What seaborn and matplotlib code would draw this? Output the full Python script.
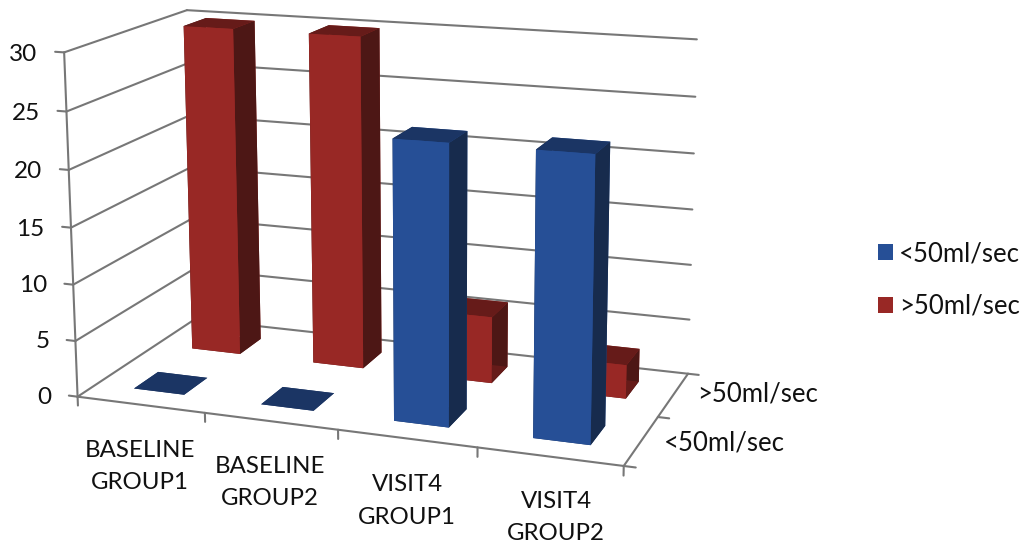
import numpy as np
import pandas as pd
import matplotlib
matplotlib.use("Agg")
import matplotlib.pyplot as plt
from matplotlib.patches import Patch
from matplotlib.ticker import NullLocator
import seaborn as sns

# Chart values
groups = ["BASELINE\nGROUP1", "BASELINE\nGROUP2", "VISIT4\nGROUP1", "VISIT4\nGROUP2"]
series_names = ["<50ml/sec", ">50ml/sec"]
below_50 = [0, 0, 24, 24]
above_50 = [30, 30, 6, 3]
value_ticks = [0, 5, 10, 15, 20, 25, 30]

# Face colours per series: front, side, top
blue_faces = ["#264F96", "#172B4D", "#1B3564"]
red_faces = ["#982825", "#4D1715", "#661B19"]
line_grey = "#777777"

W, H = 1026, 546
sns.set_theme(style="white")
plt.rcParams["font.family"] = ["Lato", "DejaVu Sans"]

table = pd.DataFrame({"group": groups, series_names[0]: below_50, series_names[1]: above_50})

# Perspective camera: chart-space corners (category, series, value) and where they land on the canvas
camera_points = [
    ((0, 0, 0), (78.3, 396.5)), ((1, 0, 0), (205, 413)), ((2, 0, 0), (337, 431)),
    ((3, 0, 0), (476.7, 448)), ((4, 0, 0), (624, 464.5)), ((4, 1, 0), (659, 417)),
    ((4, 2, 0), (688, 374)), ((0, 2, 0), (195, 319)), ((0, 0, 30), (64.3, 52)),
    ((0, 2, 30), (186.7, 10)), ((4, 2, 30), (697, 40)), ((4, 2, 5), (689, 319)),
]


def fit_camera(points):
    scale = np.array([4.0, 2.0, 30.0])
    rows = []
    for (xyz, (u, v)) in points:
        p = np.r_[np.array(xyz) / scale, 1.0]
        u, v = u / 1000, v / 1000
        rows.append(np.r_[p, np.zeros(4), -u * p])
        rows.append(np.r_[np.zeros(4), p, -v * p])
    cam = np.linalg.svd(np.array(rows))[2][-1].reshape(3, 4)
    cam[:2] *= 1000
    cam[:, :3] /= scale
    cam /= cam[2] @ np.array([2, 1, 15, 1.0])
    depth = np.array([-0.02, 1.0, -0.002, 0.0])
    return np.vstack([cam[0], cam[1], depth, cam[2]])


fig = plt.figure(figsize=(W / 100, H / 100), dpi=100, facecolor="white")
ax = fig.add_axes([0, 0, 1, 1], projection="3d")
ax.set_axis_off()
for axis in (ax.xaxis, ax.yaxis, ax.zaxis):
    axis.set_major_locator(NullLocator())
    axis.set_visible(False)
ax.set_proj_type("ortho")
ax.computed_zorder = False
camera = fit_camera(camera_points)
ax.get_proj = lambda: camera
ax.apply_aspect = lambda position=None: None
ax.viewLim.intervalx = (0, W)
ax.viewLim.intervaly = (H, 0)


def frame_line(a, b, width=1.5):
    ax.plot([a[0], b[0]], [a[1], b[1]], [a[2], b[2]], color=line_grey, lw=width,
            zorder=1, solid_capstyle="round")


def chart_label(x, y, z, label, **kw):
    # Place a flat label at the canvas position of a chart-space point
    h = camera @ np.array([x, y, z, 1.0])
    ax.text2D(h[0] / h[3], h[1] / h[3], label, transform=ax.transData, zorder=3, **kw)


n = len(groups)
top = value_ticks[-1]

# Walls and floor
for v in value_ticks:
    frame_line((0, 2, v), (n, 2, v))
    frame_line((0, 0, v), (0, 2, v))
    frame_line((0, 0, v), (-0.07, 0, v))
frame_line((0, 0, 0), (0, 0, top))
frame_line((0, 0, 0), (n, 0, 0))
frame_line((n, 0, 0), (n, 2, 0))
for k in range(n + 1):
    frame_line((k, 0, 0), (k, 0, -0.8))
for j in range(3):
    frame_line((n, j, 0), (n + 0.08, j, 0))

# Bars, one row per series
bar_width = 0.4
offset = (1 - bar_width) / 2
xs, ys, heights, face_colours = [], [], [], []
for row, (values, faces) in enumerate(zip((below_50, above_50), (blue_faces, red_faces))):
    front, side, lid = faces
    for k, val in enumerate(values):
        xs.append(k + offset)
        ys.append(row + offset)
        heights.append(val)
        # bottom, top, front, back, left, right
        face_colours.extend([lid, lid, front, front, side, side])
bars = ax.bar3d(xs, ys, np.zeros(len(xs)), bar_width, bar_width, heights,
                color=face_colours, shade=False, edgecolor="none", linewidth=0, zorder=2)

# Axis labels
ink = "#111111"
for v in value_ticks:
    chart_label(-0.21, 0, v - 0.35, str(v), ha="right", va="center", color=ink, fontsize=17.5)
group_dx = [-0.02, -0.015, 0.0, 0.05]
group_dz = [-5.6, -5.4, -5.4, -5.1]
for k, name in enumerate(groups):
    chart_label(k + 0.5 + group_dx[k], 0, group_dz[k], name, ha="center", va="center",
                color=ink, fontsize=17.3, linespacing=1.65)
series_dx = [0.155, 0.17]
series_dz = [0.05, 0.3]
for j, name in enumerate(series_names):
    chart_label(n + series_dx[j], j + 0.5, series_dz[j], name, ha="left", va="center",
                color=ink, fontsize=18.5)

handles = [Patch(facecolor=blue_faces[0], edgecolor="none", label=series_names[0]),
           Patch(facecolor=red_faces[0], edgecolor="none", label=series_names[1])]
ax.legend(handles=handles, frameon=False, loc="center left", bbox_to_anchor=(854.5 / W, 1 - 280 / H),
          bbox_transform=fig.transFigure, fontsize=18.5, labelcolor=ink,
          handlelength=0.6, handleheight=0.6, handletextpad=0.23, labelspacing=1.07)

fig.savefig("out.png", dpi=100, facecolor="white")
